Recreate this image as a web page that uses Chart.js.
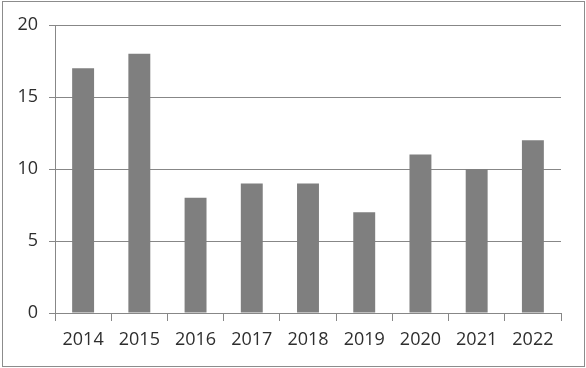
<!DOCTYPE html>
<html>
<head>
<meta charset="utf-8">
<script src="https://cdn.jsdelivr.net/npm/chart.js@4"></script>
<style>
  html, body { margin: 0; padding: 0; background: #fff; }
  #wrap { position: relative; width: 586px; height: 368px; }
</style>
</head>
<body>
<div id="wrap"><canvas id="chart" width="586" height="368"></canvas></div>
<script>
// ========== DATA ==========
const years = ["2014", "2015", "2016", "2017", "2018", "2019", "2020", "2021", "2022"];
const counts = [17, 18, 8, 9, 9, 7, 11, 10, 12];
const yTicks = [0, 5, 10, 15, 20];

const labelFont = { family: "'Open Sans', 'Liberation Sans', sans-serif", size: 18 };
const labelColor = "#2e2e2e";
const lineColor = "#878787";

// outer frame round the whole picture
const framePlugin = {
  id: "frame",
  afterDraw: (chart) => {
    const ctx = chart.ctx;
    ctx.save();
    ctx.strokeStyle = "#8c8c8c";
    ctx.lineWidth = 1;
    ctx.strokeRect(2.5, 1.5, 582, 365);
    ctx.restore();
  },
};

new Chart(document.getElementById("chart"), {
  type: "bar",
  data: {
    labels: years,
    datasets: [
      {
        data: counts,
        backgroundColor: "#7f7f7f",
        borderWidth: 0,
        categoryPercentage: 1,
        barPercentage: 0.39,
      },
    ],
  },
  options: {
    responsive: false,
    animation: false,
    layout: { padding: { left: 0, top: 25, right: 25, bottom: 0 } },
    plugins: { legend: { display: false }, tooltip: { enabled: false } },
    scales: {
      x: {
        afterFit: (scale) => { scale.height = 55; },
        grid: { offset: true, drawOnChartArea: false, drawTicks: true, tickLength: 8, color: lineColor },
        border: { color: lineColor },
        ticks: { font: labelFont, color: labelColor, padding: 8, maxRotation: 0 },
      },
      y: {
        min: 0,
        max: 20,
        afterFit: (scale) => { scale.width = 55; },
        afterBuildTicks: (scale) => { scale.ticks = yTicks.map((v) => ({ value: v })); },
        grid: { color: lineColor, tickLength: 6 },
        border: { color: lineColor },
        ticks: { font: labelFont, color: labelColor, padding: 11 },
      },
    },
  },
  plugins: [framePlugin],
});
</script>
</body>
</html>
